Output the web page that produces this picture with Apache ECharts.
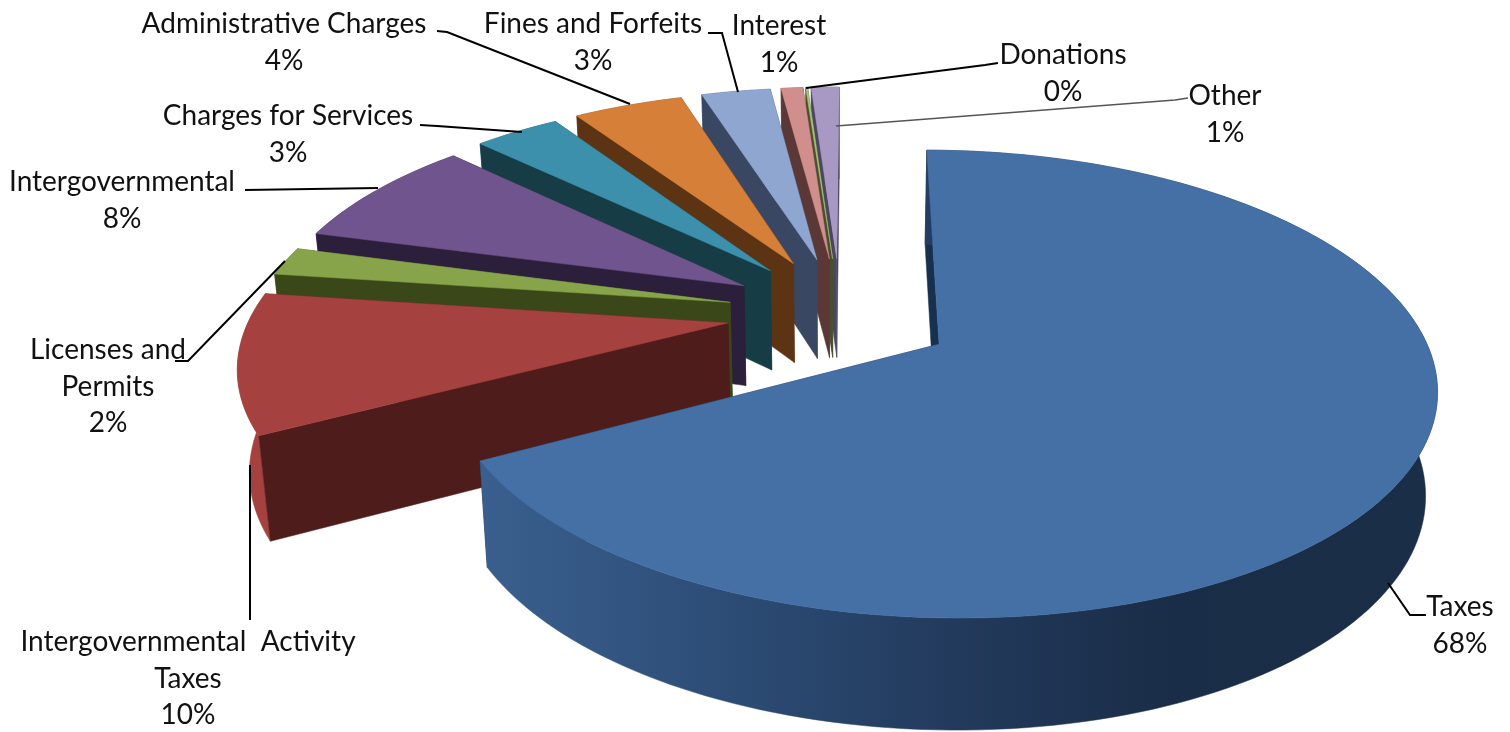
<!DOCTYPE html>
<html>
<head>
<meta charset="utf-8">
<style>html,body{margin:0;padding:0;background:#fff}#main{width:1510px;height:732px}</style>
<script src="https://cdn.jsdelivr.net/npm/echarts@6/dist/echarts.min.js"></script>
</head>
<body>
<div id="main"></div>
<script>
// --- data ---
var categories = ['Taxes','Intergovernmental Activity Taxes','Licenses and Permits','Intergovernmental','Charges for Services','Administrative Charges','Fines and Forfeits','Interest','Donations','Other'];
var shares = [67.5,10.06,2.07,8.1,3.49,4.47,2.82,0.89,0.08,1.14];
var percentLabels = ['68%','10%','2%','8%','3%','4%','3%','1%','0%','1%'];

// --- styling ---
var topColors  = ['#4570A6','#A5423F','#87A44A','#70548D','#3C90AB','#D67F38','#8EA6D0','#D08F8C','#A9C27A','#A898C4'];
var wallColors = ['#17304F','#4E1C1B','#3A4719','#2C1F3B','#163C46','#5C3413','#3A4762','#5B3836','#46502F','#4C4560'];
var rimColors  = ['#1B2E47','#A5423F','#5A7030','#4A3860','#27606F','#8A5225','#5A6C8A','#8A5E5C','#708050','#6E6285'];

// --- projection layout ---
var geo = {cx:840, cy:317, R:478, Q:218, k:0.167, explode:0.237, backScale:1.12, lift:0.015, H:101, shrink:0.98, start:0.3};
function project(a, b, low) {
  var s = 1 / (1 - geo.k * b);
  var x = geo.cx + geo.R * a * s, y = geo.cy + geo.Q * b * s;
  if (low) { x = geo.cx + (x - geo.cx) * geo.shrink; y += geo.H * Math.sqrt(s); }
  return [x, y];
}
var total = shares.reduce(function (p, c) { return p + c; }, 0);
var wedges = [], acc = geo.start;
shares.forEach(function (v) {
  var sweep = v / total * 360;
  wedges.push({from: acc, to: acc + sweep});
  acc += sweep;
});
function offset(i) {
  var m = (wedges[i].from + wedges[i].to) / 2 * Math.PI / 180;
  var b = -geo.explode * Math.cos(m);
  if (b < 0) b *= geo.backScale;
  if (i > 0) b -= geo.lift;
  return [geo.explode * Math.sin(m), b];
}
function rimPoint(i, deg, low) {
  var o = offset(i), t = deg * Math.PI / 180;
  return project(o[0] + Math.sin(t), o[1] - Math.cos(t), low);
}
function rimPath(i, low) {
  var pts = [], w = wedges[i], n = Math.max(2, Math.ceil((w.to - w.from) / 1.5));
  for (var j = 0; j <= n; j++) pts.push(rimPoint(i, w.from + (w.to - w.from) * j / n, low));
  return pts;
}
function poly(points, fill) {
  return {type: 'polygon', shape: {points: points}, style: {fill: fill, stroke: fill, lineWidth: 0.5}};
}
function renderWedge(params, api) {
  var i = api.value(0), o = offset(i);
  var apex = project(o[0], o[1], false), apexLow = project(o[0], o[1], true);
  var rim = rimPath(i, false), rimLow = rimPath(i, true);
  var rimFill = rimColors[i];
  if (i === 0) {
    rimFill = {type:'linear', x:485, y:0, x2:1430, y2:0, global:true, colorStops:[
      {offset:0, color:'#3A5F8E'},{offset:0.22, color:'#2E4F79'},{offset:0.5, color:'#223A5C'},
      {offset:0.72, color:'#1A2D48'},{offset:1, color:'#1B2E47'}]};
  }
  var rimWall = poly(rim.concat(rimLow.slice().reverse()), rimFill);
  var walls = [
    poly([rim[0], apex, apexLow, rimLow[0]], wallColors[i]),
    poly([rim[rim.length-1], apex, apexLow, rimLow[rimLow.length-1]], wallColors[i])
  ];
  var kids = (i === 0 ? walls.concat([rimWall]) : [rimWall].concat(walls));
  kids.push(poly([apex].concat(rim), topColors[i]));
  return {type: 'group', children: kids};
}

// --- label layout, same order as categories ---
var labelLines = [
  ['Taxes'],['Intergovernmental  Activity','Taxes'],['Licenses and','Permits'],['Intergovernmental'],
  ['Charges for Services'],['Administrative Charges'],['Fines and Forfeits'],['Interest'],['Donations'],['Other']
];
var labelAnchors = [[1460,589],[188,624],[108,332],[122,164],[288,98],[284,6],[593,6],[779,8],[1063,37],[1225,78]];
var leaders = [
  [[1426,615],[1410,615],[1388,583]],
  [[250,620],[250,465]],
  [[175,361],[188,361],[285,261]],
  [[245,190],[378,188]],
  [[420,125],[437,126],[522,132]],
  [[437,31],[447,32],[630,104]],
  [[708,33],[722,33],[738,92]],
  null,
  [[998,63],[985,65],[806,88]],
  [[1188,98],[1175,100],[836,126]]
];
var leaderColors = ['#000','#000','#000','#000','#000','#000','#000','#000','#000','#555'];

var order = [9,8,7,6,5,4,3,2,1,0];
var graphics = [];
categories.forEach(function (name, i) {
  var lines = labelLines[i].concat([percentLabels[i]]);
  graphics.push({type:'text', x:labelAnchors[i][0], y:labelAnchors[i][1], z:20,
    style:{text:lines.join('\n'), font:'28px Lato', lineHeight:36.5, fill:'#111', align:'center', verticalAlign:'top'}});
  if (leaders[i]) graphics.push({type:'polyline', z:19, shape:{points:leaders[i]},
    style:{stroke:leaderColors[i], lineWidth:leaderColors[i]==='#000'?2:1.3, fill:null}});
});

var chart = echarts.init(document.getElementById('main'), null, {renderer:'canvas'});
chart.setOption({
  animation:false,
  backgroundColor:'#fff',
  graphic:{elements:graphics},
  series:[{
    type:'custom', coordinateSystem:'none', silent:true, z:2,
    renderItem:renderWedge, encode:{},
    data: order.map(function (i) { return [i, shares[i]]; })
  }]
});
</script>
</body>
</html>
